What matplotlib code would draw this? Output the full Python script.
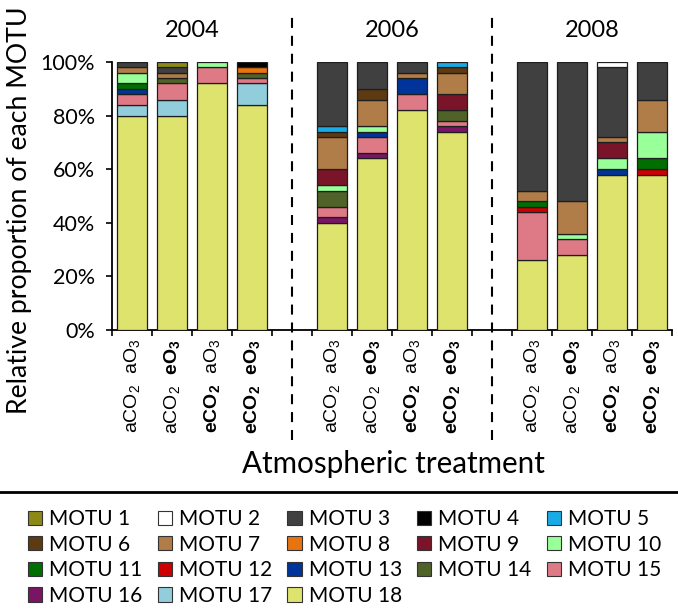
import numpy as np
import matplotlib
matplotlib.use("Agg")
import matplotlib.pyplot as plt
from matplotlib.patches import Patch
from matplotlib.lines import Line2D

plt.rcParams['font.family'] = ['Lato', 'DejaVu Sans']
plt.rcParams['mathtext.fontset'] = 'custom'
plt.rcParams['mathtext.rm'] = 'Liberation Sans'
plt.rcParams['mathtext.bf'] = 'Liberation Sans:bold'
plt.rcParams['mathtext.it'] = 'Liberation Sans:italic'

# ---------------- data ----------------
years = ['2004', '2006', '2008']
treatment_labels = [
    r"$\mathrm{aCO_2\ \ aO_3}$",
    r"$\mathrm{aCO_2}\ \ \mathbf{eO_3}$",
    r"$\mathbf{eCO_2}\ \ \mathrm{aO_3}$",
    r"$\mathbf{eCO_2\ \ eO_3}$",
]
motu_names = [f"MOTU {i}" for i in range(1, 19)]
motu_colors = ['#8C8A14', '#FFFFFF', '#404040', '#000000', '#1AAAE6', '#5E3A12',
               '#B07C47', '#E8730F', '#7A1428', '#99FF99', '#006E00', '#CC0000',
               '#00349A', '#4F6228', '#DE7A86', '#7A1464', '#92CDDC', '#DEE36E']

# percent per MOTU for the 12 bars: 2004 (4), 2006 (4), 2008 (4)
motu1 = [0, 2, 0, 0,   0, 0, 0, 0,    0, 0, 0, 0]
motu2 = [0, 0, 0, 0,   0, 0, 0, 0,    0, 0, 2, 0]
motu3 = [2, 2, 0, 0,   24, 10, 4, 0,  48, 52, 26, 14]
motu4 = [0, 0, 0, 2,   0, 0, 0, 0,    0, 0, 0, 0]
motu5 = [0, 0, 0, 0,   2, 0, 0, 2,    0, 0, 0, 0]
motu6 = [0, 0, 0, 0,   2, 4, 0, 2,    0, 0, 0, 0]
motu7 = [2, 2, 0, 0,   12, 10, 2, 8,  4, 12, 2, 12]
motu8 = [0, 0, 0, 2,   0, 0, 0, 0,    0, 0, 0, 0]
motu9 = [0, 0, 0, 0,   6, 0, 0, 6,    0, 0, 6, 0]
motu10 = [4, 0, 2, 0,  2, 2, 0, 0,    0, 2, 4, 10]
motu11 = [2, 0, 0, 0,  0, 0, 0, 0,    2, 0, 0, 4]
motu12 = [0, 0, 0, 0,  0, 0, 0, 0,    2, 0, 0, 2]
motu13 = [2, 0, 0, 0,  0, 2, 6, 0,    0, 0, 2, 0]
motu14 = [0, 2, 0, 2,  6, 0, 0, 4,    0, 0, 0, 0]
motu15 = [4, 6, 6, 2,  4, 6, 6, 2,    18, 6, 0, 0]
motu16 = [0, 0, 0, 0,  2, 2, 0, 2,    0, 0, 0, 0]
motu17 = [4, 6, 0, 8,  0, 0, 0, 0,    0, 0, 0, 0]
motu18 = [80, 80, 92, 84, 40, 64, 82, 74, 26, 28, 58, 58]

motu_values = [motu1, motu2, motu3, motu4, motu5, motu6, motu7, motu8, motu9,
               motu10, motu11, motu12, motu13, motu14, motu15, motu16, motu17, motu18]

# ---------------- figure ----------------
W, H = 678, 609
fig = plt.figure(figsize=(W / 100, H / 100), dpi=100)

def fx(px):
    return px / W

def fy(py):
    return 1 - py / H

ax = fig.add_axes([fx(112), fy(330), (672 - 112) / W, (330 - 62) / H])

positions = []
for g in range(3):
    positions += [g * 5 + k for k in range(4)]
positions = np.array(positions, dtype=float)

bottom = np.zeros(len(positions))
for i in range(17, -1, -1):
    vals = np.array(motu_values[i], dtype=float)
    lws = np.where(vals > 0, 0.9, 0.0)
    ax.bar(positions, vals, width=0.73, bottom=bottom, color=motu_colors[i],
           edgecolor='#1e1e1e', linewidth=lws, zorder=3)
    bottom += vals

ax.set_xlim(-0.5, 13.5)
ax.set_ylim(0, 100)
for s in ['top', 'right']:
    ax.spines[s].set_visible(False)
for s in ['left', 'bottom']:
    ax.spines[s].set_linewidth(1.3)
    ax.spines[s].set_color('black')

ax.set_yticks([0, 20, 40, 60, 80, 100])
ax.set_yticklabels([f"{v}%" for v in [0, 20, 40, 60, 80, 100]])
ax.tick_params(axis='y', direction='out', length=4.3, width=1.2, pad=8, labelsize=15.5)

ax.set_xticks(np.arange(-0.5, 13.6, 1.0))
ax.set_xticklabels([])
ax.tick_params(axis='x', which='major', direction='out', length=4.3, width=1.2)
ax.set_xticks(positions, treatment_labels * 3, minor=True, rotation=90)
ax.tick_params(axis='x', which='minor', length=0, pad=6.5, labelsize=14)

# dashed separators
for xd in [4, 9]:
    ax.axvline(xd, ymin=(330 - 440) / 268, ymax=(330 - 13) / 268, clip_on=False,
               color='black', lw=1.5, ls=(0, (4.8, 3.8)))

# year labels
for g, yr in enumerate(years):
    ax.text(g * 5 + 1.5, (330 - 30.5) / 268, yr, transform=ax.get_xaxis_transform(),
            ha='center', va='center', fontsize=17)

fig.text(fx(7), fy(414), "Relative proportion of each MOTU", rotation=90,
         ha='left', va='bottom', fontsize=19.2)
fig.text(fx(393), fy(473), "Atmospheric treatment", ha='center', va='baseline',
         fontsize=21.3)

fig.add_artist(Line2D([0, 1], [fy(492), fy(492)], transform=fig.transFigure,
                      color='black', lw=2))

# legend (row-major as in reference, matplotlib fills column-major)
order = [0, 5, 10, 15, 1, 6, 11, 16, 2, 7, 12, 17, 3, 8, 13, 4, 9, 14]
handles = [Patch(facecolor=motu_colors[i], edgecolor='#333333', lw=0.8) for i in order]
labels = [motu_names[i] for i in order]
fig.legend(handles, labels, ncol=5, loc='upper left',
           bbox_to_anchor=(fx(28), fy(509)), frameon=False, fontsize=15,
           handlelength=0.68, handleheight=0.68, handletextpad=0.34,
           columnspacing=0.73, labelspacing=0.27, borderpad=0, borderaxespad=0)

fig.savefig("out.png", dpi=100)
